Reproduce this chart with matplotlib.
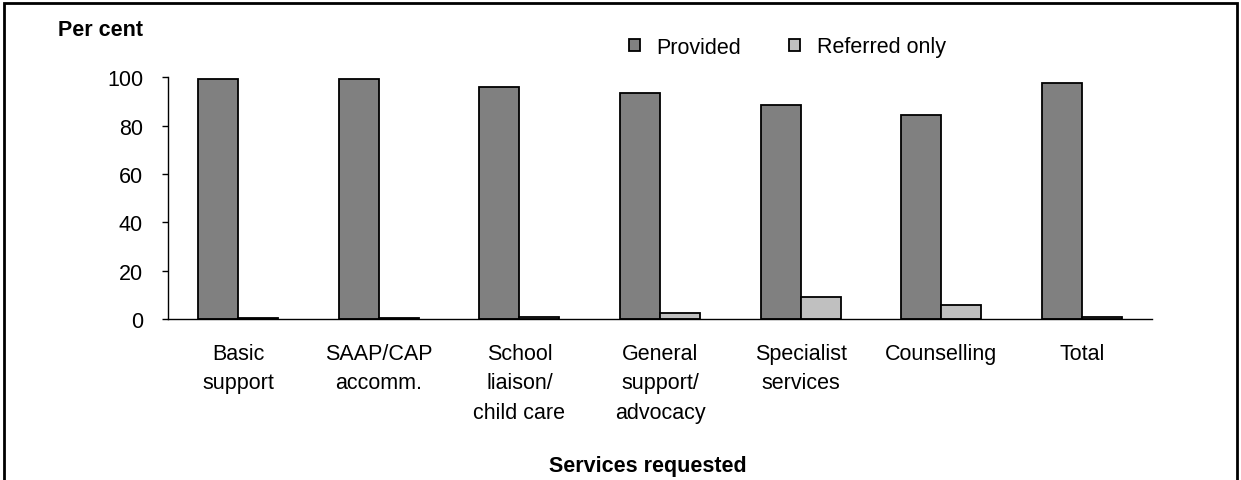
import numpy as np
import matplotlib.pyplot as plt
from matplotlib.patches import Patch, Rectangle

plt.rcParams['font.family'] = ['Liberation Sans', 'DejaVu Sans']

categories = ['Basic\nsupport', 'SAAP/CAP\naccomm.', 'School\nliaison/\nchild care',
              'General\nsupport/\nadvocacy', 'Specialist\nservices', 'Counselling', 'Total']
provided = [99.4, 99.4, 96.1, 93.5, 88.7, 84.5, 97.6]
referred = [0.5, 0.5, 1.0, 2.5, 9.2, 5.9, 0.8]

W, H = 1241, 481
FS = 15.5
fig = plt.figure(figsize=(W / 100, H / 100), dpi=100)
ax = fig.add_axes([168 / W, 1 - 320 / H, (1152 - 168) / W, (320 - 78.3) / H])

x = np.arange(len(categories))
bw = 0.285
ax.bar(x - bw / 2, provided, bw, color='#808080', edgecolor='black', linewidth=1.3)
ax.bar(x + bw / 2, referred, bw, color='#c0c0c0', edgecolor='black', linewidth=1.3)

ax.set_xlim(-0.5, len(categories) - 0.5)
ax.set_ylim(0, 100)
ax.set_yticks(range(0, 101, 20))
ax.set_xticks(x)
ax.set_xticklabels(categories, fontsize=FS, linespacing=1.55, va='top')
ax.tick_params(axis='x', length=0, pad=17)
ax.tick_params(axis='y', labelsize=FS, length=4, width=1, pad=14)
for s in ['top', 'right']:
    ax.spines[s].set_visible(False)
ax.spines['left'].set_linewidth(1)
ax.spines['bottom'].set_linewidth(1)

handles = [Patch(facecolor='#808080', edgecolor='black', linewidth=1.3, label='Provided'),
           Patch(facecolor='#c0c0c0', edgecolor='black', linewidth=1.3, label='Referred only')]
fig.legend(handles=handles, loc='center left', bbox_to_anchor=(618 / W, 1 - 48 / H),
           ncol=2, frameon=False, fontsize=FS, handlelength=0.5, handleheight=0.5,
           handletextpad=0.8, columnspacing=2.2, borderpad=0)

fig.text(58 / W, 1 - 30 / H, 'Per cent', fontsize=FS, fontweight='bold', va='center', ha='left')
fig.text(648 / W, 1 - 467 / H, 'Services requested', fontsize=FS, fontweight='bold',
         va='center', ha='center')

fig.patches.append(Rectangle((4 / W, -0.05), (1237 - 4) / W, 1.05 - 4 / H,
                             transform=fig.transFigure, fill=False,
                             edgecolor='black', linewidth=2))

fig.savefig('out.png', dpi=100)
